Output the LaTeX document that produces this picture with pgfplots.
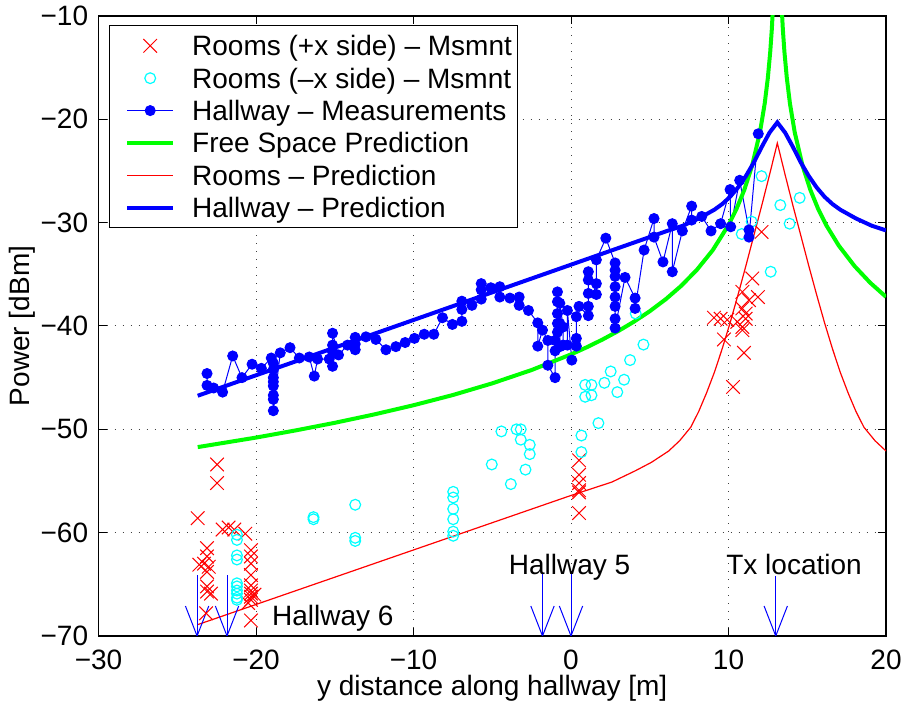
\documentclass[border=0pt]{standalone}
\usepackage{pgfplots}
\pgfplotsset{compat=1.18}
\usepackage{fontspec}
\setmainfont{Liberation Sans}
\definecolor{mred}{rgb}{1,0,0}
\definecolor{mcyan}{rgb}{0,1,1}
\definecolor{mblue}{rgb}{0,0,1}
\definecolor{mgreen}{rgb}{0,1,0}
\newcommand{\fs}{\fontsize{14}{16.5}\selectfont}
\begin{document}
\begin{tikzpicture}[font=\fs]
\begin{axis}[
  name=main,
  scale only axis, width=393.75pt, height=310pt,
  xmin=-30, xmax=20, ymin=-70, ymax=-10,
  xtick={-30,-20,-10,0,10,20}, ytick={-70,-60,-50,-40,-30,-20,-10},
  xticklabels={−30,−20,−10,0,10,20},
  yticklabels={−70,−60,−50,−40,−30,−20,−10},
  tick align=inside, major tick length=4pt,
  every tick/.style={black, line width=0.5pt},
  xmajorgrids, ymajorgrids,
  grid style={black!75, line width=0.5pt, dash pattern=on 0.6pt off 3.4pt},
  axis line style={line width=0.6pt},
  tick label style={font=\fs},
  xticklabel style={anchor=north, inner sep=0pt, yshift=-7pt},
  yticklabel style={anchor=east, inner sep=0pt, xshift=-5pt},
  xlabel={y distance along hallway [m]},
  ylabel={Power [dBm]},
  xlabel style={at={([yshift=-30pt]axis description cs:0.5,0)}, anchor=base, inner sep=0pt, font=\fs},
  ylabel style={at={([xshift=-34.25pt]axis description cs:0,0.5)}, anchor=base, rotate=0, inner sep=0pt, font=\fs},
  legend image code/.code={\path (0pt,0pt); \draw[mark repeat=2,mark phase=2,#1] plot coordinates {(5pt,0pt) (16.5pt,0pt) (28pt,0pt)};},
  legend style={at={(0,1)}, anchor=north west, xshift=5.1pt, yshift=-4.65pt,
    draw=black, line width=0.5pt, fill=white, font=\fs,
    inner xsep=3pt, inner ysep=5pt, row sep=6.2pt, column sep=8.5pt,
    nodes={inner sep=0pt, text height=10pt, text depth=0pt},
    cells={anchor=west}},
]
% Rooms (+x side) measurements
\addplot[only marks, mred, mark=x, mark size=4.8pt, mark options={mred, line width=0.5pt}] coordinates {
(-23.7,-58.6) (-22.47,-53.4) (-22.47,-55.2) (-22.12,-59.7) (-21.74,-59.5) (-21.38,-59.7) (-20.68,-60.1)
(-23.11,-61.5) (-23.11,-62.3) (-23.6,-63.1) (-23.3,-63.0) (-23.0,-63.3) (-23.11,-63.8) (-23.11,-65.2)
(-23.11,-65.7) (-22.86,-65.9) (-23.17,-67.8) (-20.32,-61.7) (-20.32,-62.3) (-20.32,-63.0) (-20.32,-64.1)
(-20.32,-65.1) (-20.32,-65.6) (-20.32,-65.9) (-20.32,-66.2) (-20.32,-66.5) (-20.32,-68.5) (-20.5,-66.8) (-20.1,-66.0)
(0.51,-53.0) (0.51,-54.4) (0.51,-55.2) (0.51,-55.9) (0.51,-56.1) (0.51,-58.1)
(12.1,-30.9) (11.51,-35.4) (11.87,-37.2) (10.88,-36.7) (11.3,-37.5) (10.88,-38.3) (11.09,-38.8)
(9.08,-39.2) (9.5,-39.3) (9.92,-39.4) (10.56,-39.6) (10.88,-40.1) (11.09,-39.3) (9.71,-41.3)
(10.88,-40.4) (10.98,-42.6) (10.29,-45.9)
};
\addlegendentry{Rooms (+x side) – Msmnt}
% Rooms (-x side) measurements
\addplot[only marks, mcyan, mark=o, mark size=2.7pt, mark options={mcyan, line width=0.6pt}] coordinates {
(-21.21,-60.2) (-21.21,-60.7) (-21.21,-62.2) (-21.21,-62.6) (-21.21,-64.9) (-21.21,-65.2) (-21.21,-65.6)
(-21.21,-65.9) (-21.21,-66.3) (-21.21,-66.5)
(-16.35,-58.5) (-16.35,-58.7) (-13.7,-57.3) (-13.7,-60.5) (-13.7,-60.8)
(-7.48,-56.05) (-7.48,-56.6) (-7.48,-57.7) (-7.48,-58.7) (-7.48,-59.9) (-7.48,-60.3)
(-5.03,-53.4) (-3.82,-55.3) (-4.42,-50.2) (-3.46,-50.0) (-3.19,-50.0) (-3.19,-51.0) (-2.62,-51.5)
(-2.62,-52.4) (-2.89,-53.9)
(0.66,-50.6) (0.66,-52.2) (1.74,-49.4)
(0.9,-45.7) (0.9,-46.85) (1.3,-45.7) (1.3,-46.7) (2.12,-45.5) (2.52,-44.4) (2.94,-46.4) (3.37,-45.2)
(3.75,-43.3) (4.6,-41.8) (4.11,-38.8)
(11.47,-29.9) (10.84,-31.1) (12.1,-25.5) (13.29,-28.3) (14.52,-27.6) (13.88,-30.1) (12.68,-34.75)
};
\addlegendentry{Rooms (–x side) – Msmnt}
% Hallway measurements
\addplot[mblue, line width=0.5pt, mark=*, mark size=2.5pt, mark options={fill=mblue, draw=mblue}] coordinates {
(-23.11,-44.6) (-23.11,-45.75) (-22.69,-46.0) (-22.12,-46.4) (-21.48,-42.9) (-20.89,-45.0) (-20.25,-43.7)
(-19.66,-44.1) (-19.03,-43.1) (-18.9,-43.6) (-18.9,-44.2) (-18.9,-45.0) (-18.9,-45.4) (-18.9,-45.8)
(-18.9,-46.7) (-18.9,-47.1) (-18.9,-48.2) (-18.46,-42.6) (-17.84,-42.1) (-17.25,-43.1) (-16.62,-43.0)
(-16.3,-44.85) (-16.09,-43.2) (-15.35,-43.2) (-15.14,-43.9) (-15.14,-42.5) (-15.14,-41.85) (-15.14,-40.7)
(-14.76,-42.8) (-14.19,-41.85) (-13.7,-42.3) (-13.7,-41.75) (-13.7,-41.1) (-13.02,-41.05) (-12.39,-41.3)
(-11.75,-42.3) (-11.12,-42.0) (-10.53,-41.6) (-9.94,-41.2) (-9.32,-40.8) (-8.71,-40.8) (-8.16,-39.2)
(-7.53,-39.85) (-6.93,-39.55) (-6.93,-38.4) (-6.93,-37.6) (-6.29,-38.0) (-5.7,-37.4) (-5.7,-36.5)
(-5.7,-35.9) (-5.09,-36.3) (-4.52,-36.2) (-4.52,-37.2) (-3.88,-37.3) (-3.29,-37.2) (-3.29,-38.0)
(-2.7,-38.5) (-2.11,-39.7) (-2.11,-41.95) (-1.81,-40.4) (-1.47,-41.4) (-1.47,-43.8) (-1.01,-45.0)
(-1.01,-42.4) (-1.01,-41.4) (-0.86,-39.75) (-0.86,-38.8) (-0.86,-37.65) (-0.86,-36.7) (-0.86,-40.6)
(-0.71,-42.0) (-0.71,-39.75) (-0.71,-37.8) (-0.5,-40.1) (-0.5,-41.85) (-0.23,-41.85) (-0.23,-38.5)
(0.05,-43.3) (0.34,-41.95) (0.34,-41.2) (0.34,-39.1) (0.51,-38.1) (1.1,-39.0) (1.1,-38.1) (1.1,-36.85)
(1.1,-35.55) (1.1,-34.75) (1.61,-36.95) (1.61,-35.9) (1.61,-33.6) (2.21,-31.5) (2.8,-33.9) (2.8,-34.6)
(2.8,-35.2) (2.8,-36.2) (2.8,-37.2) (2.8,-38.1) (2.8,-39.3) (2.8,-40.2) (3.43,-35.3) (4.07,-37.3)
(4.07,-38.3) (4.64,-32.65) (5.27,-29.6) (5.27,-31.4) (5.84,-33.8) (6.43,-30.1) (6.43,-34.75) (7.07,-30.8)
(7.66,-28.4) (7.66,-29.75) (8.3,-29.4) (8.89,-30.8) (9.5,-30.1) (10.1,-26.8) (10.14,-30.4) (10.71,-25.9)
(11.3,-30.7) (11.3,-31.4) (11.89,-21.4)
};
\addlegendentry{Hallway – Measurements}
% Free space prediction
\addplot[mgreen, line width=2pt] coordinates {
(-23.7,-51.72) (-20,-50.80) (-17.5,-50.11) (-15,-49.37) (-12.5,-48.56) (-10,-47.67) (-7.5,-46.68)
(-5,-45.55) (-2.5,-44.26) (0,-42.75) (1,-42.06) (2,-41.31) (3,-40.49) (4,-39.58) (5,-38.57) (6,-37.43)
(7,-36.11) (8,-34.55) (9,-32.66) (10,-30.23) (10.5,-28.70) (11,-26.84) (11.5,-24.48) (12,-21.23)
(12.3,-18.46) (12.5,-15.96) (12.65,-13.46) (12.75,-11.28) (12.85,-8.36)
(13.35,-8.36) (13.45,-11.28) (13.55,-13.46) (13.7,-15.96) (13.9,-18.46) (14.2,-21.23) (14.7,-24.48)
(15.2,-26.84) (15.7,-28.70) (16.2,-30.23) (17,-32.22) (18,-34.20) (19,-35.82) (20,-37.18)
};
\addlegendentry{Free Space Prediction}
% Rooms prediction
\addplot[mred, line width=0.6pt,
  legend image code/.code={\path (0pt,0pt); \draw[mred, line width=0.6pt] (5pt,0pt) -- (28pt,0pt);}] coordinates {
(-23.7,-68.9) (0,-56.4) (2.6,-55.1) (4.1,-54.0) (5.1,-53.2) (6.2,-52.1) (6.9,-51.1) (7.6,-49.8)
(8.1,-48.3) (8.6,-46.5) (9.1,-44.5) (9.6,-42.2) (10.1,-39.7) (10.6,-37.0) (11.1,-34.2) (11.6,-31.3)
(12.1,-28.4) (12.6,-25.4) (13.1,-22.3)
(13.6,-25.4) (14.1,-28.4) (14.6,-31.3) (15.1,-34.2) (15.6,-37.0) (16.1,-39.7) (16.6,-42.2) (17.1,-44.5)
(17.6,-46.5) (18.1,-48.3) (18.6,-49.8) (19.3,-51.1) (20,-52.1)
};
\addlegendentry{Rooms – Prediction}
% Hallway prediction
\addplot[mblue, line width=2pt] coordinates {
(-23.7,-46.75) (6.2,-30.75) (7.1,-30.3) (8.1,-29.6) (9.1,-28.75) (9.6,-28.2) (10.1,-27.5) (10.6,-26.6)
(11.1,-25.5) (11.6,-24.2) (12.1,-22.7) (12.6,-21.3) (13.1,-20.3) (13.6,-21.3) (14.1,-22.7) (14.6,-24.2)
(15.1,-25.5) (15.6,-26.6) (16.1,-27.5) (16.6,-28.2) (17.1,-28.75) (18.1,-29.6) (19.1,-30.3) (20,-30.75)
};
\addlegendentry{Hallway – Prediction}
% arrows
\addplot[mblue, line width=0.5pt, forget plot] coordinates {(-23.74,-64.1) (-23.74,-70)};
\addplot[mblue, line width=0.5pt, forget plot] coordinates {(-24.48,-67.1) (-23.74,-70) (-23.0,-67.1)};
\addplot[mblue, line width=0.5pt, forget plot] coordinates {(-21.84,-64.1) (-21.84,-70)};
\addplot[mblue, line width=0.5pt, forget plot] coordinates {(-22.58,-67.1) (-21.84,-70) (-21.1,-67.1)};
\addplot[mblue, line width=0.5pt, forget plot] coordinates {(-1.81,-63.95) (-1.81,-70)};
\addplot[mblue, line width=0.5pt, forget plot] coordinates {(-2.55,-67.1) (-1.81,-70) (-1.07,-67.1)};
\addplot[mblue, line width=0.5pt, forget plot] coordinates {(0,-63.95) (0,-70)};
\addplot[mblue, line width=0.5pt, forget plot] coordinates {(-0.74,-67.1) (0,-70) (0.74,-67.1)};
\addplot[mblue, line width=0.5pt, forget plot] coordinates {(13.0,-64.2) (13.0,-70)};
\addplot[mblue, line width=0.5pt, forget plot] coordinates {(12.26,-67.1) (13.0,-70) (13.74,-67.1)};
\node[anchor=base west, inner sep=0pt, font=\fs] at (axis cs:-19.0,-68.95) {Hallway 6};
\node[anchor=base west, inner sep=0pt, font=\fs] at (axis cs:-3.97,-64.02) {Hallway 5};
\node[anchor=base west, inner sep=0pt, font=\fs] at (axis cs:9.84,-64.02) {Tx location};
\end{axis}
\pgfresetboundingbox
\path[use as bounding box] ([shift={(-49.25pt,-34pt)}]main.south west) rectangle ([shift={(8.5pt,8pt)}]main.north east);
\end{tikzpicture}
\end{document}
